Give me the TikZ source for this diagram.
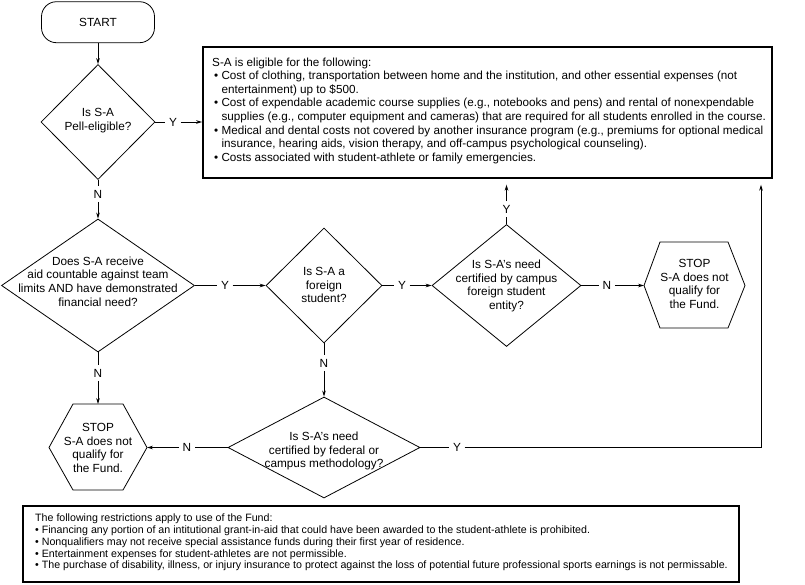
\documentclass[tikz,border=0pt]{standalone}
\usepackage{fontspec}
\setmainfont{Liberation Sans}
\usetikzlibrary{shapes.geometric,arrows.meta,calc}
\newcommand\bl{\hspace*{2pt}\textbullet\ }
\newcommand\ind{\hspace*{2pt}\hphantom{\textbullet\ }}
\begin{document}
\begin{tikzpicture}[x=1pt,y=-1pt,
  every node/.style={font=\fontsize{11.8}{13.8}\selectfont},
  dia/.style={diamond, draw, line width=0.8pt, inner sep=0pt},
  txt/.style={align=center, inner sep=0pt},
  lab/.style={inner sep=3.5pt},
  conn/.style={line width=0.8pt},
  arr/.style={line width=0.8pt, -{Stealth[length=6pt,width=3.6pt]}},
  bigbox/.style={draw, line width=1.8pt, inner sep=0pt},
  hex/.style={line width=0.8pt, line join=miter}
]
\useasboundingbox (0,0) rectangle (805,584);

% START
\node[draw, line width=0.8pt, rounded corners=15pt, minimum width=113pt, minimum height=41pt] (start) at (98,22.2) {START};

% eligible box
\node[bigbox, minimum width=569pt, minimum height=131.6pt] (elig) at (487.5,112.5) {};
\node[anchor=north west, inner sep=0pt, align=left, font=\fontsize{11.7}{13.6}\selectfont] (eligt) at (212,57.5) {%
S-A is eligible for the following:\\
\bl Cost of clothing, transportation between home and the institution, and other essential expenses (not\\
\ind entertainment) up to \$500.\\
\bl Cost of expendable academic course supplies (e.g., notebooks and pens) and rental of nonexpendable\\
\ind supplies (e.g., computer equipment and cameras) that are required for all students enrolled in the course.\\
\bl Medical and dental costs not covered by another insurance program (e.g., premiums for optional medical\\
\ind insurance, hearing aids, vision therapy, and off-campus psychological counseling).\\
\bl Costs associated with student-athlete or family emergencies.};

% diamonds
\node[dia, minimum width=114pt, minimum height=115pt] (d1) at (98,122) {};
\node[txt] (d1t) at (98,120.5) {Is S-A\\Pell-eligible?};

\node[dia, minimum width=193pt, minimum height=133pt] (d2) at (98,285.5) {};
\node[txt] (d2t) at (98,281.5) {Does S-A receive\\aid countable against team\\limits AND have demonstrated\\financial need?};

\node[dia, minimum width=116pt, minimum height=115pt] (d3) at (324,285.5) {};
\node[txt] (d3t) at (324,285) {Is S-A a\\foreign\\student?};

\node[dia, minimum width=149pt, minimum height=122pt] (d4) at (506.5,285.5) {};
\node[txt] (d4t) at (506.5,286) {Is S-A's need\\certified by campus\\foreign student\\entity?};

\node[dia, minimum width=192pt, minimum height=101pt] (d5) at (324,447.5) {};
\node[txt] (d5t) at (324,451) {Is S-A's need\\certified by federal or\\campus methodology?};

% hexagons
\node[txt] (s1) at (694.5,284) {STOP\\S-A does not\\qualify for\\the Fund.};
\coordinate (s1w) at (644,285.5);
\draw[hex] (s1w) -- (660,242) -- (728,242) -- (745,285.5) -- (728,328) -- (660,328) -- cycle;

\node[txt] (s2) at (98,448) {STOP\\S-A does not\\qualify for\\the Fund.};
\coordinate (s2e) at (147,447.5);
\coordinate (s2n) at (98,404);
\draw[hex] (49,447.5) -- (73,404) -- (123,404) -- (s2e) -- (123,490) -- (73,490) -- cycle;

% restrictions box
\node[bigbox, minimum width=716.6pt, minimum height=76.3pt] (restr) at (381,544.2) {};
\node[anchor=north west, inner sep=0pt, align=left, font=\fontsize{10.65}{11.7}\selectfont] (restrt) at (35,514) {%
The following restrictions apply to use of the Fund:\\
\textbullet\ Financing any portion of an intitutional grant-in-aid that could have been awarded to the student-athlete is prohibited.\\
\textbullet\ Nonqualifiers may not receive special assistance funds during their first year of residence.\\
\textbullet\ Entertainment expenses for student-athletes are not permissible.\\
\textbullet\ The purchase of disability, illness, or injury insurance to protect against the loss of potential future professional sports earnings is not permissable.};

% labels
\node[lab] (y1) at (173,122) {Y};
\node[lab] (n1) at (98,194) {N};
\node[lab] (y2) at (225,285.5) {Y};
\node[lab] (y3) at (402,285.5) {Y};
\node[lab] (n4) at (607,285.5) {N};
\node[lab] (y4) at (506.5,209) {Y};
\node[lab] (n3) at (324,363) {N};
\node[lab] (n2) at (98,373) {N};
\node[lab] (n5) at (187,447.5) {N};
\node[lab] (y5) at (457,447.5) {Y};
\coordinate (corner) at (761,447.5);

% connectors
\draw[arr] (start) -- (d1);
\draw[conn] (d1) -- (y1);
\draw[arr] (y1) -- (y1 -| elig.west);
\draw[conn] (d1) -- (n1);
\draw[arr] (n1) -- (d2);
\draw[conn] (d2) -- (y2);
\draw[arr] (y2) -- (d3);
\draw[conn] (d3) -- (y3);
\draw[arr] (y3) -- (d4);
\draw[conn] (d4) -- (n4);
\draw[arr] (n4) -- (s1w);
\draw[conn] (d4) -- (y4);
\draw[arr, shorten >=5.5pt] (y4) -- (y4 |- elig.south);
\draw[conn] (d3) -- (n3);
\draw[arr] (n3) -- (d5);
\draw[conn] (d2) -- (n2);
\draw[arr] (n2) -- (s2n);
\draw[conn] (d5) -- (n5);
\draw[arr] (n5) -- (s2e);
\draw[conn] (d5) -- (y5);
\draw[arr, shorten >=5.5pt] (y5) -- (corner) -- (corner |- elig.south);
\end{tikzpicture}
\end{document}
